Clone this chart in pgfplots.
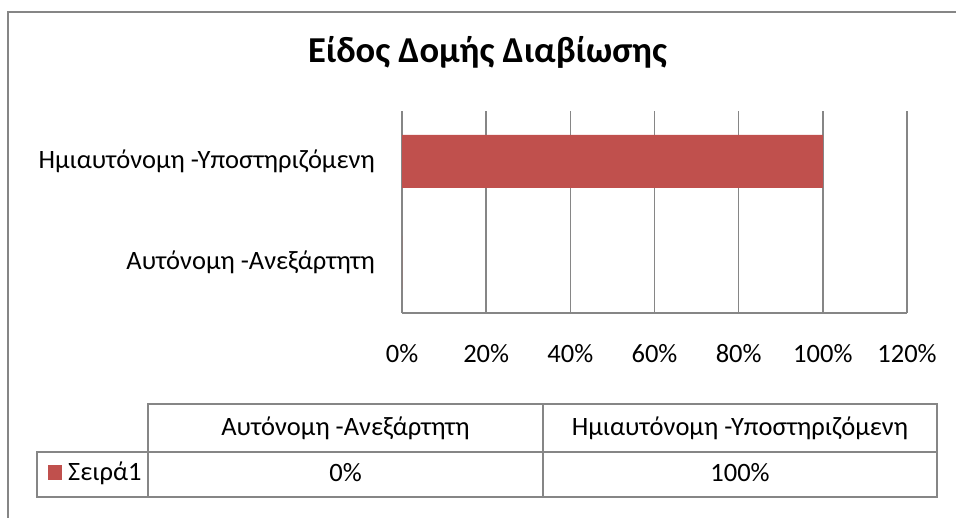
\documentclass[border=0pt]{standalone}
\usepackage{fontspec}
\setmainfont{Carlito}
\usepackage{pgfplots}
\pgfplotsset{compat=1.18}
\definecolor{barred}{HTML}{C0504D}
\definecolor{gridgray}{HTML}{868686}
\newcommand{\lbl}{\fontsize{26.5bp}{31bp}\selectfont}
\begin{document}
\begin{tikzpicture}[x=1bp,y=1bp]
\useasboundingbox (0,0) rectangle (956,518);
\draw[gridgray, line width=2bp] (8,-20) -- (8,506) -- (990,506);
\node[anchor=base, inner sep=0, font=\fontsize{36.5bp}{42bp}\selectfont\bfseries] at (487.5,455) {Είδος Δομής Διαβίωσης};
\begin{axis}[
  at={(402bp,205bp)}, anchor=south west,
  scale only axis, width=505bp, height=202bp,
  xmin=0, xmax=120, ymin=-0.5, ymax=1.5,
  xbar, bar width=53bp,
  xtick={0,20,...,120},
  xticklabel={\pgfmathprintnumber{\tick}\%},
  /pgf/number format/assume math mode=true,
  ytick={0,1},
  yticklabels={Αυτόνομη -Ανεξάρτητη, Ημιαυτόνομη -Υποστηριζόμενη},
  axis x line*=bottom, axis y line*=left,
  axis line style={-, draw=gridgray, line width=1.5bp},
  xmajorgrids, major grid style={gridgray, line width=1.5bp},
  major tick length=0pt, tick style={draw=none},
  xticklabel style={font=\lbl, anchor=base, inner sep=0pt, yshift=-50bp},
  yticklabel style={font=\lbl, anchor=base east, inner sep=0pt, xshift=-27bp, yshift=-7bp},
]
\addplot[fill=barred, draw=none] coordinates {(0,0) (100,1)};
\end{axis}
% data table
\begin{scope}[gridgray, line width=1.5bp]
\draw (148,21) -- (148,114) -- (937,114) -- (937,21);
\draw (543,114) -- (543,21);
\draw (37,21) rectangle (937,66);
\end{scope}
\node[anchor=base, inner sep=0, font=\lbl] at (345.5,82) {Αυτόνομη -Ανεξάρτητη};
\node[anchor=base, inner sep=0, font=\lbl] at (740,82) {Ημιαυτόνομη -Υποστηριζόμενη};
\node[anchor=base, inner sep=0, font=\lbl] at (345.5,36) {0\%};
\node[anchor=base, inner sep=0, font=\lbl] at (740,36) {100\%};
\fill[barred] (48,38) rectangle (62,53);
\node[anchor=base west, inner sep=0, font=\lbl] at (68,37) {Σειρά1};
\end{tikzpicture}
\end{document}
